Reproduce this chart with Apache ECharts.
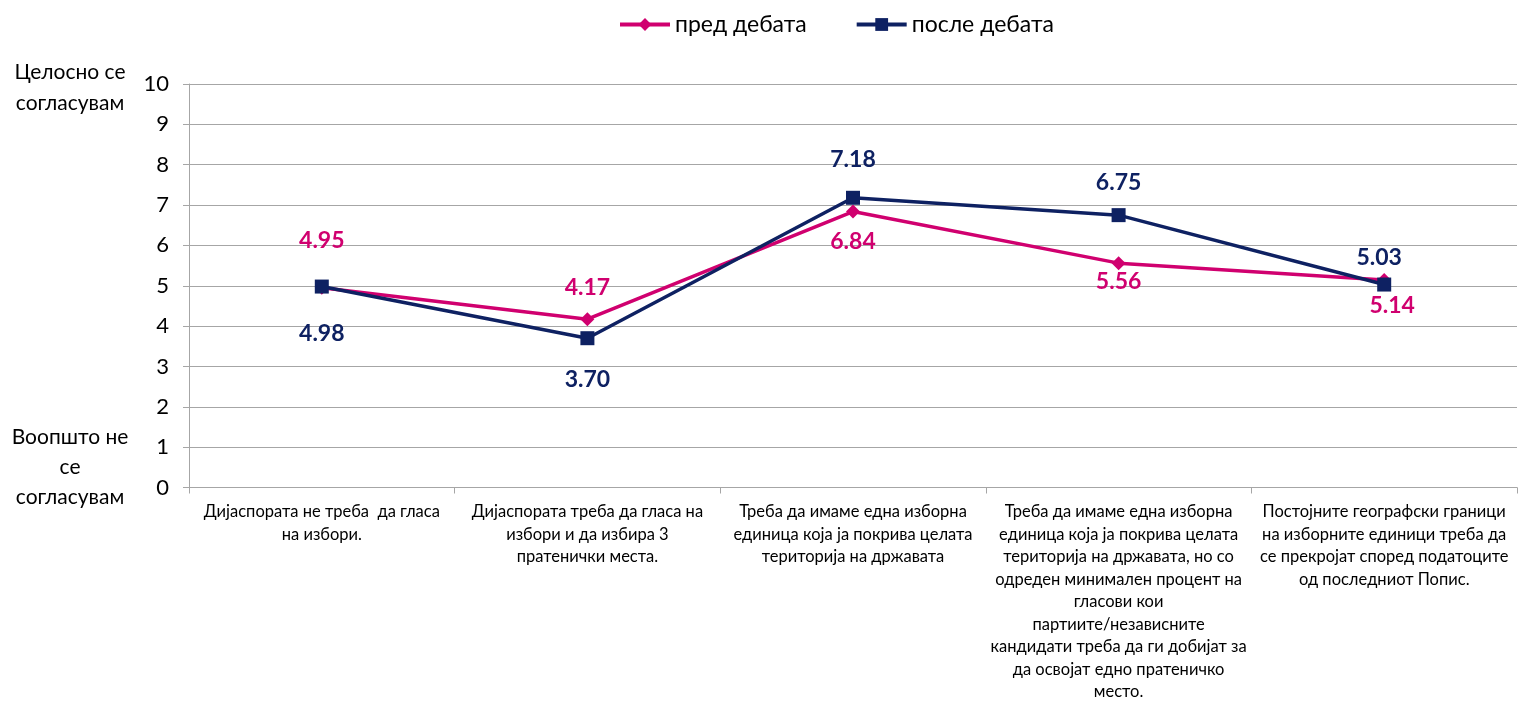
<!DOCTYPE html>
<html>
<head>
<meta charset="utf-8">
<script src="https://cdn.jsdelivr.net/npm/echarts@6/dist/echarts.min.js"></script>
<style>html,body{margin:0;padding:0;background:#fff}#c{width:1528px;height:703px}</style>
</head>
<body>
<div id="c"></div>
<script>
const categories = [
  'Дијаспората не треба  да гласа\nна избори.',
  'Дијаспората треба да гласа на\nизбори и да избира 3\nпратенички места.',
  'Треба да имаме една изборна\nединица која ја покрива целата\nтериторија на државата',
  'Треба да имаме една изборна\nединица која ја покрива целата\nтериторија на државата, но со\nодреден минимален процент на\nгласови кои\nпартиите/независните\nкандидати треба да ги добијат за\nда освојат едно пратеничко\nместо.',
  'Постојните географски граници\nна изборните единици треба да\nсе прекројат според податоците\nод последниот Попис.'
];
const seriesNames = ['пред дебата', 'после дебата'];
const before = [4.95, 4.17, 6.84, 5.56, 5.14];
const after = [4.98, 3.70, 7.18, 6.75, 5.03];
const yTicks = [0,1,2,3,4,5,6,7,8,9,10];

// label placement (style, not data)
const beforeLabelOffsets = [[0,-47],[0,-32],[0,30],[0,18],[8,25]];
const afterLabelOffsets = [[0,47],[0,41],[0,-38],[0,-33],[-5,-27]];

const FONT = 'Lato, "Open Sans", sans-serif';
const PINK = '#D0006F';
const NAVY = '#0E2162';

function items(vals, offs, color) {
  return vals.map((v, i) => ({
    value: v,
    label: { show: true, position: 'inside', offset: offs[i], color: color,
      fontSize: 23, fontWeight: 'bold', fontFamily: FONT,
      formatter: p => Number(p.value).toFixed(2) }
  }));
}

const chart = echarts.init(document.getElementById('c'), null, {renderer: 'canvas'});
chart.setOption({
  animation: false,
  backgroundColor: '#fff',
  textStyle: { fontFamily: FONT },
  legend: {
    top: 8, left: 613, itemWidth: 50, itemHeight: 16, itemGap: 48,
    lineStyle: { width: 4 },
    textStyle: { fontSize: 23, color: '#000', fontFamily: FONT },
    data: seriesNames
  },
  grid: { left: 189, right: 11, top: 84, bottom: 206, containLabel: false },
  xAxis: {
    type: 'category', data: categories, boundaryGap: true,
    axisLine: { lineStyle: { color: '#a6a6a6', width: 1 } },
    axisTick: { show: true, alignWithLabel: false, length: 6, lineStyle: { color: '#a6a6a6' } },
    axisLabel: { interval: 0, margin: 13, fontSize: 16.5, lineHeight: 22.5, color: '#000', fontFamily: FONT, align: 'center' }
  },
  yAxis: {
    type: 'value', min: 0, max: 10, interval: 1,
    axisLine: { show: true, lineStyle: { color: '#a6a6a6' } },
    axisTick: { show: true, length: 6, lineStyle: { color: '#a6a6a6' } },
    splitLine: { lineStyle: { color: '#a6a6a6', width: 1 } },
    axisLabel: { fontSize: 22, color: '#000', margin: 20, fontFamily: FONT,
      formatter: v => yTicks.includes(v) ? String(v) : '' }
  },
  graphic: [
    { type: 'text', x: 70, y: 57, style: { text: 'Целосно се\nсогласувам', fontSize: 21, lineHeight: 31, fill: '#000', align: 'center', fontFamily: FONT } },
    { type: 'text', x: 70, y: 422, style: { text: 'Воопшто не\nсе\nсогласувам', fontSize: 21, lineHeight: 30, fill: '#000', align: 'center', fontFamily: FONT } }
  ],
  series: [
    { name: seriesNames[0], type: 'line', data: items(before, beforeLabelOffsets, PINK),
      color: PINK, symbol: 'diamond', symbolSize: 14,
      lineStyle: { width: 3.5, color: PINK }, itemStyle: { color: PINK }, z: 2 },
    { name: seriesNames[1], type: 'line', data: items(after, afterLabelOffsets, NAVY),
      color: NAVY, symbol: 'rect', symbolSize: 14,
      lineStyle: { width: 3.5, color: NAVY }, itemStyle: { color: NAVY }, z: 3 }
  ]
});
</script>
</body>
</html>
